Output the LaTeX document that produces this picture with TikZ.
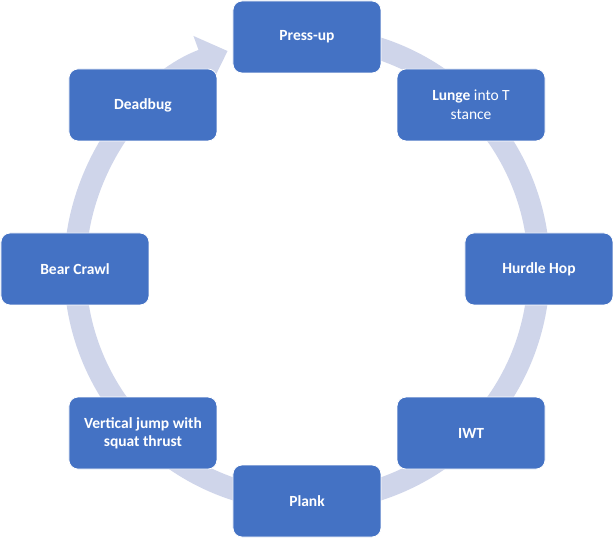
\documentclass[tikz,border=0pt]{standalone}
\usepackage{fontspec}
\setmainfont{Carlito}
\usetikzlibrary{arrows.meta}
\definecolor{boxblue}{HTML}{4472C4}
\definecolor{ringblue}{HTML}{CFD5EA}

\begin{document}
\begin{tikzpicture}[x=1pt,y=1pt,
    stepbox/.style={draw=white,line width=0.8pt,fill=boxblue,rounded corners=9pt,
      minimum width=148pt,minimum height=72pt,text=white,align=center,
      font=\fontsize{15.5}{18.5}\selectfont\bfseries}]
      \useasboundingbox (-307,-272) rectangle (307,269);
      % the ring, arrow ends at Press-up
      \draw[ringblue,line width=22pt,-{Triangle[width=50pt,length=27pt]}]
      (78:232) arc[start angle=78,end angle=-250,radius=232];
      \draw
      (90:232) node[stepbox] (P) {Press-up}
      (45:232) node[stepbox] (L) {Lunge \mdseries into T\\\mdseries stance}
      (0:232) node[stepbox] (H) {Hurdle Hop}
      (-45:232) node[stepbox] (I) {IWT}
      (-90:232) node[stepbox] (K) {Plank}
      (-135:232) node[stepbox] (V) {Vertical jump with\\squat thrust}
      (180:232) node[stepbox] (B) {Bear Crawl}
      (135:232) node[stepbox] (D) {Deadbug};
    \end{tikzpicture}
\end{document}
